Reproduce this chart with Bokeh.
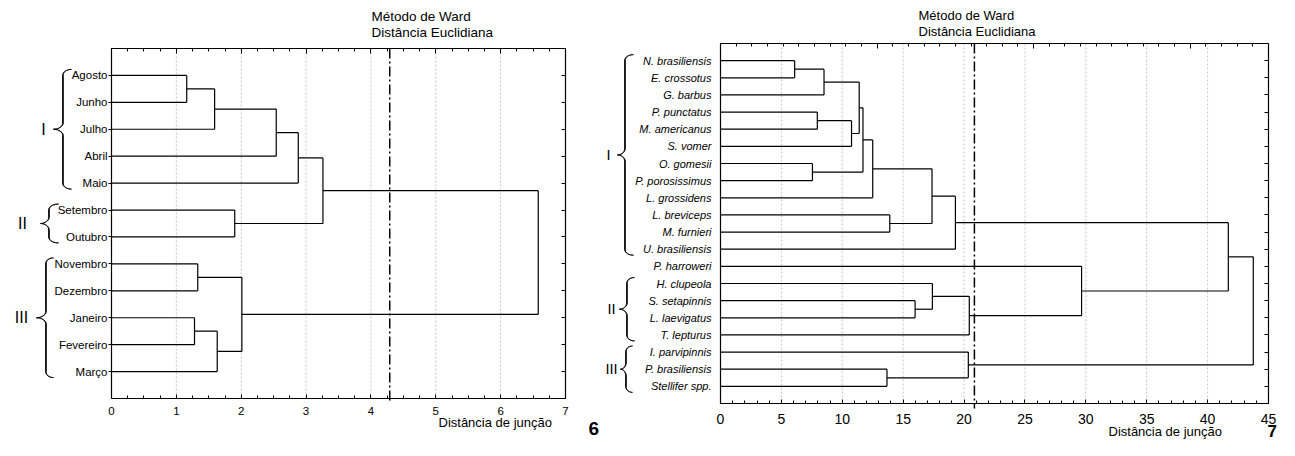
import math
from bokeh.plotting import figure
from bokeh.models import Range1d, FixedTicker, LinearAxis, ColumnDataSource
from bokeh.core.properties import value
from bokeh.layouts import row
from bokeh.embed import file_html
from bokeh.resources import INLINE

FONT = "Liberation Sans"

# ---------------- data: figure 6 (months) ----------------
leaves_6 = ["Agosto", "Junho", "Julho", "Abril", "Maio", "Setembro", "Outubro",
            "Novembro", "Dezembro", "Janeiro", "Fevereiro", "Março"]
# merges: (child a, child b, joining distance); new nodes numbered after leaves
merges_6 = [(0, 1, 1.16), (12, 2, 1.59), (13, 3, 2.54), (14, 4, 2.88),
            (5, 6, 1.90), (15, 16, 3.26), (7, 8, 1.33), (9, 10, 1.28),
            (19, 11, 1.63), (18, 20, 2.01), (17, 21, 6.58)]
cut_6 = 4.29
groups_6 = [("I", 0, 4), ("II", 5, 6), ("III", 7, 11)]
xticks_6 = [0, 1, 2, 3, 4, 5, 6, 7]

# ---------------- data: figure 7 (species) ----------------
leaves_7 = ["N. brasiliensis", "E. crossotus", "G. barbus", "P. punctatus",
            "M. americanus", "S. vomer", "O. gomesii", "P. porosissimus",
            "L. grossidens", "L. breviceps", "M. furnieri", "U. brasiliensis",
            "P. harroweri", "H. clupeola", "S. setapinnis", "L. laevigatus",
            "T. lepturus", "I. parvipinnis", "P. brasiliensis", "Stellifer spp."]
merges_7 = [(0, 1, 6.09), (20, 2, 8.5), (3, 4, 7.95), (22, 5, 10.76),
            (21, 23, 11.39), (6, 7, 7.55), (24, 25, 11.7), (26, 8, 12.5),
            (9, 10, 13.9), (27, 28, 17.37), (29, 11, 19.29), (14, 15, 15.98),
            (13, 31, 17.4), (32, 16, 20.43), (12, 33, 29.65), (30, 34, 41.7),
            (18, 19, 13.67), (17, 36, 20.35), (35, 37, 43.75)]
cut_7 = 20.85
groups_7 = [("I", 0, 11), ("II", 13, 16), ("III", 17, 19)]
xticks_7 = [0, 5, 10, 15, 20, 25, 30, 35, 40, 45]

title_lines = ["Método de Ward", "Distância Euclidiana"]
axis_title = "Distância de junção"


def dendro_segments(n, merges):
    xs = {i: 0.0 for i in range(n)}
    ys = {i: float(i + 1) for i in range(n)}
    x0, y0, x1, y1 = [], [], [], []
    for k, (a, b, h) in enumerate(merges):
        node = n + k
        for c in (a, b):
            x0.append(xs[c]); y0.append(ys[c]); x1.append(h); y1.append(ys[c])
        x0.append(h); y0.append(ys[a]); x1.append(h); y1.append(ys[b])
        xs[node] = h
        ys[node] = (ys[a] + ys[b]) / 2.0
    return dict(x0=x0, y0=y0, x1=x1, y1=y1)


def brace_polygon(y_top, y_bot, x_tip, x_spine, x_point, r, thick, n=10):
    ym = (y_top + y_bot) / 2.0
    pts = []
    for i in range(n + 1):
        t = i / n * math.pi / 2
        pts.append((x_tip - (x_tip - x_spine) * math.sin(t), y_top + r * (1 - math.cos(t))))
    for i in range(n + 1):
        t = i / n * math.pi / 2
        pts.append((x_point + (x_spine - x_point) * math.cos(t), ym - r + r * math.sin(t)))
    for i in range(1, n + 1):
        t = i / n * math.pi / 2
        pts.append((x_point + (x_spine - x_point) * math.sin(t), ym + r - r * math.cos(t)))
    for i in range(n + 1):
        t = i / n * math.pi / 2
        pts.append((x_tip - (x_tip - x_spine) * math.cos(t), y_bot - r + r * math.sin(t)))
    back = []
    for (x, y) in reversed(pts):
        s = min((y - y_top) / r, (y_bot - y) / r, abs(y - ym) / r, 1.0)
        s = max(s, 0.0)
        back.append((x + thick * s, y))
    allp = pts + back
    return [p[0] for p in allp], [p[1] for p in allp]


def seq(stop, step):
    out, v = [], 0.0
    while v <= stop + 1e-9:
        out.append(round(v, 4))
        v += step
    return out


def make_chart(leaves, merges, cut, groups, xticks, minor_step, top_end, top_major,
               top_minor, c):
    n = len(leaves)
    xmax = xticks[-1]
    W, H = c["width"], c["height"]
    bl, br, bt, bb = c["box"]
    ppx = (br - bl) / xmax
    ppy = (bb - bt) / (n + 1.0)
    x_range = Range1d(-bl / ppx, xmax + (W - br) / ppx)
    y_range = Range1d((n + 1) + (H - bb) / ppy, -bt / ppy)
    p = figure(width=W, height=H, output_backend="svg", toolbar_location=None,
               x_range=x_range, y_range=y_range, x_axis_location=None,
               y_axis_location=None, min_border=0, background_fill_color="white",
               border_fill_color="white")
    p.outline_line_color = None
    p.grid.visible = False

    # bottom axis (labelled)
    bot = LinearAxis(fixed_location=n + 1, bounds=(0, xmax),
                     ticker=FixedTicker(ticks=xticks, minor_ticks=seq(xmax, minor_step)),
                     major_tick_in=4, major_tick_out=0, minor_tick_in=3, minor_tick_out=0,
                     axis_line_color="black", axis_line_width=1.2,
                     major_label_text_font=FONT, major_label_text_font_size=c["tick_font"],
                     major_label_text_color="black", major_label_standoff=c["tick_standoff"])
    p.add_layout(bot, "below")

    # left axis with the leaf names
    pos = list(range(1, n + 1))
    left = LinearAxis(fixed_location=0, bounds=(0, n + 1), ticker=FixedTicker(ticks=pos),
                      major_label_overrides={i + 1: nm for i, nm in enumerate(leaves)},
                      major_tick_in=0, major_tick_out=c["leaf_tick_out"],
                      minor_tick_line_color=None, major_label_standoff=c["leaf_standoff"],
                      major_label_text_font=FONT, major_label_text_font_size=c["leaf_font"],
                      major_label_text_font_style=c["leaf_style"],
                      major_label_text_color="black", axis_line_color="black",
                      axis_line_width=1.2)
    p.add_layout(left, "left")

    # right axis: ticks at the leaf rows
    right = LinearAxis(fixed_location=xmax, bounds=(0, n + 1), ticker=FixedTicker(ticks=pos),
                       major_tick_in=4, major_tick_out=0, minor_tick_line_color=None,
                       major_label_text_color=None, axis_line_color="black",
                       axis_line_width=1.2)
    p.add_layout(right, "right")

    # top axis (unlabelled, own tick spacing)
    tpp = (br - bl) / top_end
    p.extra_x_ranges = {"top": Range1d(-bl / tpp, top_end + (W - br) / tpp)}
    top = LinearAxis(x_range_name="top", fixed_location=0, bounds=(0, top_end),
                     ticker=FixedTicker(ticks=seq(top_end, top_major),
                                        minor_ticks=seq(top_end, top_minor)),
                     major_tick_in=5, major_tick_out=0, minor_tick_in=3, minor_tick_out=0,
                     major_label_text_color=None, axis_line_color="black",
                     axis_line_width=1.2)
    p.add_layout(top, "above")

    # dotted vertical grid lines inside the box
    gx = [t for t in xticks if 0 < t < xmax]
    p.segment(x0=gx, y0=[0] * len(gx), x1=gx, y1=[n + 1] * len(gx),
              line_color="#c4c4c4", line_dash="2 2", line_width=1)

    # dendrogram
    src = ColumnDataSource(dendro_segments(n, merges))
    p.segment(x0="x0", y0="y0", x1="x1", y1="y1", source=src, line_color="black",
              line_width=1.2)

    # cut line
    p.segment(x0=[cut], y0=[0], x1=[cut], y1=[n + 1 + 5 / ppy], line_color="black",
              line_width=1.5, line_dash="10 3 2 3")

    # titles
    tf = value(FONT)
    p.text(x=[0, 0], y=[0, 0], text=title_lines, x_offset=[c["title_x"]] * 2,
           y_offset=c["title_y"], text_font=tf, text_font_size=c["title_font"],
           text_color="black", text_baseline="middle", text_align="left")
    p.text(x=[0], y=[n + 1], text=[axis_title], x_offset=c["axl_x"], y_offset=c["axl_y"],
           text_font=tf, text_font_size=c["axl_font"], text_color="black",
           text_baseline="middle", text_align="left")
    p.text(x=[0], y=[n + 1], text=[c["num"]], x_offset=c["num_x"], y_offset=c["num_y"],
           text_font=tf, text_font_size=c["num_font"], text_font_style="bold",
           text_color="black", text_baseline="middle", text_align="left")

    # group braces and roman numerals
    over = c["brace_over"] / ppy
    for (name, g0, g1), (nx, xtip, xsp, xpt) in zip(groups, c["braces"]):
        ytop = g0 + 1 - over
        ybot = g1 + 1 + over
        r = min(c["brace_r"] / ppy, (ybot - ytop) / 4.0)
        bx, by = brace_polygon(ytop, ybot, xtip / ppx, xsp / ppx, xpt / ppx, r,
                               0.9 / ppx)
        p.patch(bx, by, fill_color="black", line_color="black", line_width=0.8)
        p.text(x=[nx / ppx], y=[(g0 + g1) / 2.0 + 1], text=[name], text_font=tf,
               text_font_size=c["rom_font"], text_color="black", text_align="center",
               text_baseline="middle")
    return p


cfg6 = dict(width=604, height=440, box=(111, 565, 48, 398),
            tick_font="11.5px", tick_standoff=8, leaf_font="11.5px", leaf_style="normal",
            leaf_tick_out=3, leaf_standoff=1, title_x=260, title_y=[-32, -15.7],
            title_font="13.5px", axl_x=327, axl_y=23.5, axl_font="13px", num="6",
            num_x=477, num_y=30, num_font="19px", rom_font="16px", brace_over=6,
            brace_r=6,
            braces=[(-68, -40, -49, -58), (-89, -53, -63, -71), (-90, -58, -66, -75)])
cfg7 = dict(width=675, height=440, box=(116, 664, 43, 403),
            tick_font="14px", tick_standoff=10, leaf_font="11px", leaf_style="italic",
            leaf_tick_out=0, leaf_standoff=9, title_x=198, title_y=[-28, -12.5],
            title_font="13px", axl_x=388, axl_y=27.5, axl_font="13px", num="7",
            num_x=547, num_y=27, num_font="17px", rom_font="14.5px", brace_over=6,
            brace_r=6,
            braces=[(-112, -87, -96, -103), (-109, -86, -94, -101), (-109, -88, -95, -100)])

p6 = make_chart(leaves_6, merges_6, cut_6, groups_6, xticks_6, 0.25, 7, 1, 0.25, cfg6)
p7 = make_chart(leaves_7, merges_7, cut_7, groups_7, xticks_7, 1.0, 35, 10, 1, cfg7)

layout = row(p6, p7)
open("out.html", "w").write(file_html(layout, INLINE))
